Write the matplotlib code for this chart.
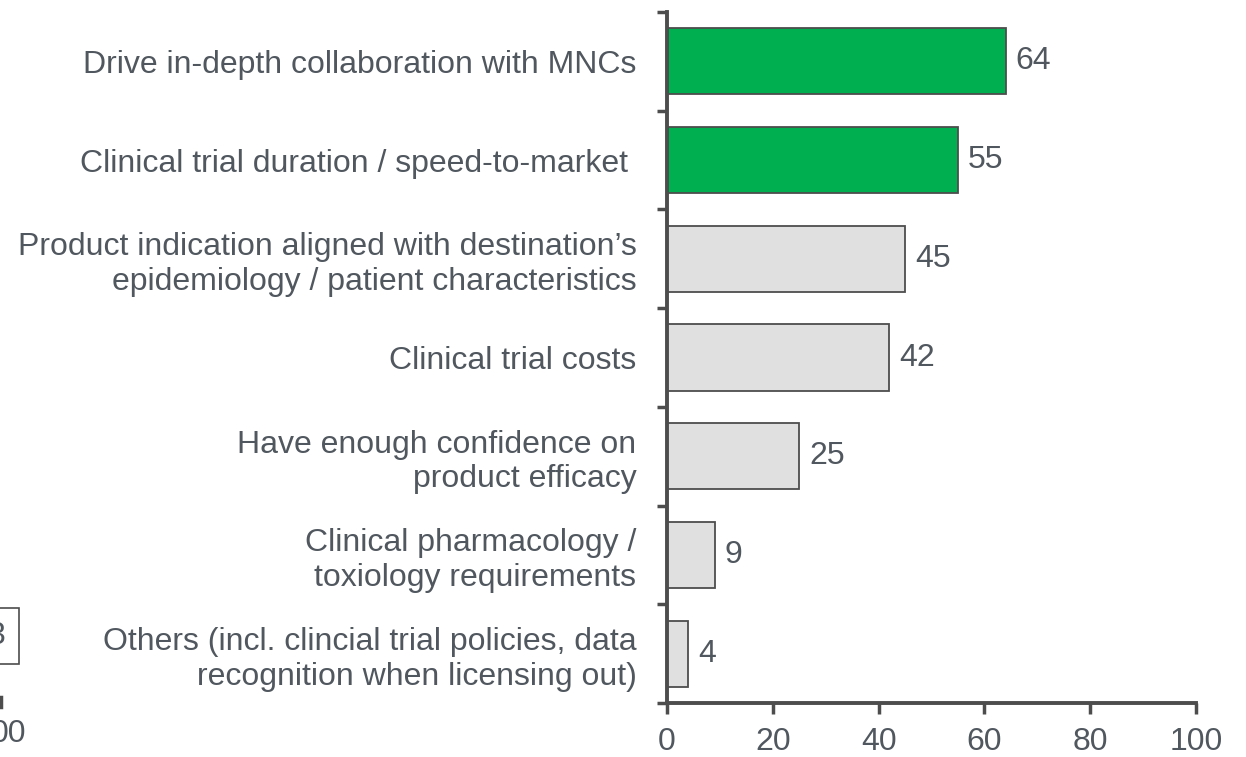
import matplotlib
matplotlib.use("Agg")
import matplotlib.pyplot as plt
from matplotlib.ticker import FixedLocator, NullFormatter

categories = [
    "Drive in-depth collaboration with MNCs",
    "Clinical trial duration / speed-to-market ",
    "Product indication aligned with destination\u2019s\nepidemiology / patient characteristics",
    "Clinical trial costs",
    "Have enough confidence on\nproduct efficacy",
    "Clinical pharmacology /\ntoxiology requirements",
    "Others (incl. clincial trial policies, data\nrecognition when licensing out)",
]
values = [64, 55, 45, 42, 25, 9, 4]
highlight = [True, True, False, False, False, False, False]
xticks = [0, 20, 40, 60, 80, 100]

plt.rcParams['font.family'] = ['Liberation Sans', 'DejaVu Sans']
txt = "#50575e"
spine = "#4d4d4d"
green = "#00B050"
grey = "#E0E0E0"
FS = 23

fig = plt.figure(figsize=(12.46, 7.57), dpi=100)
ax = fig.add_axes([667/1246, 1-703/757, (1196-667)/1246, (703-12)/757])

n = len(categories)
ypos = list(range(n))
colors = [green if h else grey for h in highlight]
ax.barh(ypos, values, height=0.67, color=colors, edgecolor=spine, linewidth=1.3, zorder=2)
ax.set_ylim(n - 0.5, -0.5)
ax.set_xlim(0, 100)

for y, v in zip(ypos, values):
    ax.text(v + 1.9, y, f"{v}", va="center", ha="left", fontsize=FS, color=txt)

ax.set_yticks(ypos)
ax.set_yticklabels(categories, fontsize=FS, color=txt, linespacing=1.2)
ax.tick_params(axis="y", which="major", length=0, pad=22)
ax.yaxis.set_minor_locator(FixedLocator([i - 0.5 for i in range(n + 1)]))
ax.yaxis.set_minor_formatter(NullFormatter())
ax.tick_params(axis="y", which="minor", length=7, width=2.5, color=spine, direction="out")
for lab in ax.get_yticklabels():
    lab.set_horizontalalignment("right")
    lab.set_multialignment("right")

ax.set_xticks(xticks)
ax.set_xticklabels([str(t) for t in xticks], fontsize=FS, color=txt)
ax.tick_params(axis="x", length=8, width=2.5, color=spine, direction="out", pad=9)

for s in ["top", "right"]:
    ax.spines[s].set_visible(False)
for s in ["left", "bottom"]:
    ax.spines[s].set_color(spine)
    ax.spines[s].set_linewidth(2.8)

# fragments of a neighbouring chart cut off at the left edge
fig.text(6/1246, 1-636/757, "3", fontsize=FS, color=txt, ha="right", va="center",
         bbox=dict(boxstyle="square,pad=0.42", facecolor="white", edgecolor=spine, linewidth=1.2))
fig.add_artist(plt.Line2D([1/1246, 1/1246], [1-697/757, 1-707/757], color=spine, linewidth=2.5))
fig.text(26/1246, 1-734/757, "00", fontsize=FS, color=txt, ha="right", va="center")

fig.savefig("out.png", dpi=100)
